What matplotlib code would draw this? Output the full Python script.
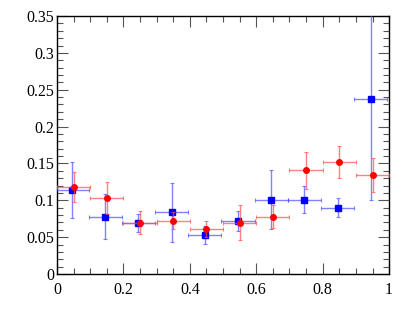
import matplotlib
matplotlib.use("Agg")
import matplotlib.pyplot as plt
from matplotlib.ticker import MultipleLocator, FormatStrFormatter
import numpy as np

plt.rcParams['font.family'] = ['Liberation Serif', 'DejaVu Serif']

centers = [0.05, 0.15, 0.25, 0.35, 0.45, 0.55, 0.65, 0.75, 0.85, 0.95]

blue_y = [0.1135, 0.078, 0.069, 0.084, 0.053, 0.072, 0.101, 0.101, 0.090, 0.237]
blue_err = [0.038, 0.030, 0.012, 0.040, 0.012, 0.013, 0.040, 0.018, 0.013, 0.136]

red_y = [0.118, 0.103, 0.0695, 0.0725, 0.0615, 0.0695, 0.078, 0.141, 0.152, 0.134]
red_err = [0.020, 0.022, 0.0155, 0.012, 0.011, 0.024, 0.016, 0.025, 0.022, 0.023]

bin_half = 0.05
blue_x = np.array(centers) - 0.005
red_x = np.array(centers)

fig = plt.figure(figsize=(4.09, 3.27), dpi=100)
ax = fig.add_axes([0.1394, 0.162, 0.812, 0.789])

ax.errorbar(blue_x, blue_y, xerr=bin_half, yerr=blue_err, fmt='s', color='blue',
            ms=3.8, ecolor=(0.3, 0.3, 1.0, 0.7), elinewidth=1.0, capsize=1.2,
            capthick=0.8, zorder=3)
ax.errorbar(red_x, red_y, xerr=bin_half, yerr=red_err, fmt='o', color='red',
            ms=4.0, ecolor=(1.0, 0.3, 0.3, 0.7), elinewidth=1.0, capsize=1.2,
            capthick=0.8, zorder=4)

ax.set_xlim(0, 1)
ax.set_ylim(0, 0.35)

ax.xaxis.set_major_locator(MultipleLocator(0.2))
ax.xaxis.set_minor_locator(MultipleLocator(0.05))
ax.yaxis.set_major_locator(MultipleLocator(0.05))
ax.yaxis.set_minor_locator(MultipleLocator(0.01))
ax.xaxis.set_major_formatter(FormatStrFormatter('%g'))
ax.yaxis.set_major_formatter(FormatStrFormatter('%g'))

ax.tick_params(which='both', direction='in', top=True, right=True,
               labelsize=11.5, color='#555555')
ax.tick_params(which='major', length=8, width=0.8)
ax.tick_params(which='minor', length=4, width=0.8)
ax.tick_params(axis='x', pad=6)
ax.tick_params(axis='y', pad=2)
for s in ax.spines.values():
    s.set_linewidth(1.0)

fig.savefig("out.png", dpi=100)
